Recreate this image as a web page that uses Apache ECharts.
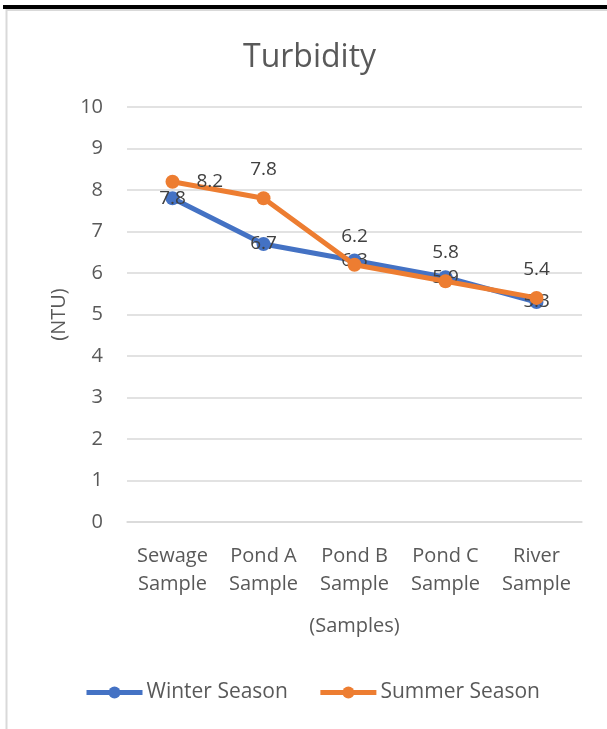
<!DOCTYPE html>
<html>
<head>
<meta charset="utf-8">
<script src="https://cdn.jsdelivr.net/npm/echarts@6/dist/echarts.min.js"></script>
<style>
html,body{margin:0;padding:0;background:#fff;}
#chart{width:607px;height:729px;}
</style>
</head>
<body>
<div id="chart"></div>
<script>
var categories = ['Sewage\nSample', 'Pond A\nSample', 'Pond B\nSample', 'Pond C\nSample', 'River\nSample'];
var winterSeason = [7.8, 6.7, 6.3, 5.9, 5.3];
var summerSeason = [8.2, 7.8, 6.2, 5.8, 5.4];
var summerLabelPos = ['right', 'top', 'top', 'top', 'top'];

var FONT = '"Open Sans"';
var TXT = '#595959';

var chart = echarts.init(document.getElementById('chart'), null, {renderer: 'canvas'});
chart.setOption({
  backgroundColor: '#ffffff',
  animation: false,
  title: {
    text: 'Turbidity',
    left: 238,
    top: 37,
    textStyle: {fontFamily: FONT, fontSize: 32, fontWeight: 'normal', color: TXT}
  },
  graphic: [
    {type: 'line', shape: {x1: 6.5, y1: 9, x2: 6.5, y2: 729}, style: {stroke: '#d9d9d9', lineWidth: 2}, silent: true, z: 10},
    {type: 'line', shape: {x1: 6, y1: 10, x2: 607, y2: 10}, style: {stroke: '#d9d9d9', lineWidth: 2}, silent: true, z: 10},
    {type: 'rect', shape: {x: 3, y: 5, width: 604, height: 4}, style: {fill: '#000000'}, silent: true, z: 11}
  ],
  legend: {
    bottom: 21,
    left: 79,
    itemWidth: 56,
    itemHeight: 15,
    itemGap: 30,
    lineStyle: {width: 5},
    textStyle: {fontFamily: FONT, fontSize: 21, color: TXT, padding: [0, 0, 0, -1]},
    data: ['Winter Season', 'Summer Season']
  },
  grid: {left: 127, right: 25, top: 107, bottom: 207},
  xAxis: {
    type: 'category',
    data: categories,
    boundaryGap: true,
    name: '(Samples)',
    nameLocation: 'middle',
    nameGap: 94,
    nameTextStyle: {fontFamily: FONT, fontSize: 20, color: TXT},
    axisLine: {lineStyle: {color: '#d9d9d9', width: 1.5}},
    axisTick: {show: false},
    axisLabel: {fontFamily: FONT, fontSize: 20, color: TXT, lineHeight: 28, margin: 20, interval: 0}
  },
  yAxis: {
    type: 'value',
    min: 0, max: 10, interval: 1,
    name: '(NTU)',
    nameLocation: 'middle',
    nameGap: 53,
    nameRotate: 90,
    nameTextStyle: {fontFamily: FONT, fontSize: 20, color: TXT},
    axisLine: {show: false},
    axisTick: {show: false},
    axisLabel: {fontFamily: FONT, fontSize: 20, color: TXT, margin: 24},
    splitLine: {lineStyle: {color: '#d9d9d9', width: 1.5}}
  },
  series: [
    {
      name: 'Winter Season',
      type: 'line',
      data: winterSeason,
      symbol: 'circle',
      symbolSize: 14,
      z: 2,
      itemStyle: {color: '#4472c4'},
      lineStyle: {color: '#4472c4', width: 5},
      label: {show: true, position: 'inside', fontFamily: FONT, fontSize: 19, color: '#404040'}
    },
    {
      name: 'Summer Season',
      type: 'line',
      data: summerSeason.map(function (v, i) {
        var pos = summerLabelPos[i];
        return {value: v, label: {position: pos, distance: pos === 'right' ? 17 : 12}};
      }),
      symbol: 'circle',
      symbolSize: 14,
      z: 3,
      itemStyle: {color: '#ed7d31'},
      lineStyle: {color: '#ed7d31', width: 5},
      label: {show: true, distance: 12, fontFamily: FONT, fontSize: 19, color: '#404040'}
    }
  ]
});
</script>
</body>
</html>
